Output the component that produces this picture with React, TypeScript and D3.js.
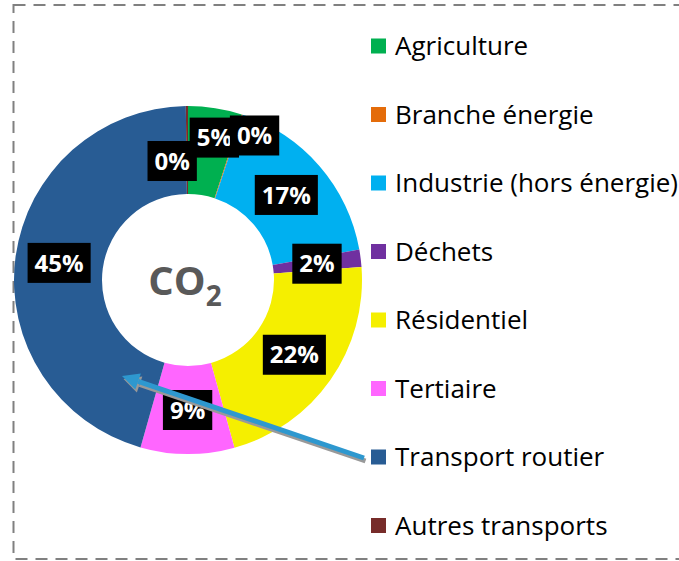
import React, { useEffect, useRef } from "react";
import * as d3 from "d3";

const categories = [
  "Agriculture",
  "Branche énergie",
  "Industrie (hors énergie)",
  "Déchets",
  "Résidentiel",
  "Tertiaire",
  "Transport routier",
  "Autres transports",
];
const shares = [5.0, 0.1, 17.1, 1.6, 21.9, 8.7, 45.4, 0.2];
const colors = [
  "#00B050",
  "#E46C0A",
  "#00B0F0",
  "#7030A0",
  "#F5EF00",
  "#FF66FF",
  "#285C94",
  "#772C2A",
];

// label nudges for the thin slices (layout only)
const labelNudge: Record<string, [number, number]> = {
  Agriculture: [6, -14],
  "Branche énergie": [26, -21],
  "Autres transports": [-15, 11],
};

const W = 679;
const H = 561;
const FONT = "'Open Sans', 'Noto Sans', sans-serif";

export default function App() {
  const svgRef = useRef<SVGSVGElement>(null);

  useEffect(() => {
    document.body.style.margin = "0";
    if (!svgRef.current) return;
    const svg = d3.select(svgRef.current);
    svg.selectAll("*").remove();

    // dashed frame
    svg.append("rect")
      .attr("x", 13.5)
      .attr("y", 5)
      .attr("width", 700)
      .attr("height", 554)
      .attr("fill", "none")
      .attr("stroke", "#808080")
      .attr("stroke-width", 2)
      .attr("stroke-dasharray", "12 8");

    const cx = 188;
    const cy = 280;
    const outerR = 174;
    const innerR = 86;

    const data = categories.map((c, i) => ({ name: c, value: shares[i], color: colors[i] }));

    const pie = d3.pie<any>().sort(null).value(d => d.value);
    const arcs = pie(data);
    const arc = d3.arc<any>().innerRadius(innerR).outerRadius(outerR);

    const g = svg.append("g").attr("transform", `translate(${cx},${cy})`);

    g.selectAll("path.slice")
      .data(arcs)
      .enter()
      .append("path")
      .attr("class", "slice")
      .attr("d", arc as any)
      .attr("fill", d => d.data.color);

    // centre title
    const title = g.append("text")
      .attr("text-anchor", "middle")
      .attr("font-family", FONT)
      .attr("font-weight", "bold")
      .attr("fill", "#595959")
      .attr("x", -3)
      .attr("y", 15);
    title.append("tspan").attr("font-size", 40).text("CO");
    title.append("tspan").attr("font-size", 28).attr("dy", 11).text("2");

    // arrow annotation (shadow + line + head)
    const start: [number, number] = [364, 458];
    const end: [number, number] = [122, 376];
    const ang = Math.atan2(end[1] - start[1], end[0] - start[0]);
    const headLen = 17;
    const headW = 8.5;
    const drawArrow = (dx: number, dy: number, col: string) => {
      const bx = end[0] - headLen * Math.cos(ang) + dx;
      const by = end[1] - headLen * Math.sin(ang) + dy;
      svg.append("line")
        .attr("x1", start[0] + dx)
        .attr("y1", start[1] + dy)
        .attr("x2", bx)
        .attr("y2", by)
        .attr("stroke", col)
        .attr("stroke-width", 5);
      const px = -Math.sin(ang) * headW;
      const py = Math.cos(ang) * headW;
      svg.append("path")
        .attr("d", `M${end[0] + dx},${end[1] + dy}L${bx + px},${by + py}L${bx - px},${by - py}Z`)
        .attr("fill", col);
    };
    drawArrow(1.5, 3, "#999999");
    drawArrow(0, 0, "#2E98CF");

    // slice labels
    arcs.forEach(d => {
      const [x0, y0] = arc.centroid(d);
      const nudge = labelNudge[d.data.name] || [0, 0];
      const x = x0 + nudge[0];
      const y = y0 + nudge[1];
      const lg = g.append("g").attr("transform", `translate(${x},${y})`);
      const rect = lg.append("rect").attr("fill", "#000");
      const t = lg.append("text")
        .attr("text-anchor", "middle")
        .attr("dy", "0.36em")
        .attr("font-family", FONT)
        .attr("font-weight", "bold")
        .attr("font-size", 24)
        .attr("fill", "#fff")
        .text(`${Math.round(d.data.value)}%`);
      const tw = (t.node() as SVGTextElement).getComputedTextLength();
      const bw = tw + 14;
      const bh = 40;
      rect.attr("x", -bw / 2).attr("y", -bh / 2).attr("width", bw).attr("height", bh);
    });

    // legend
    const rowY = d3.scaleLinear().domain([0, categories.length - 1]).range([46, 525.5]);
    const legend = svg.append("g");
    data.forEach((d, i) => {
      const y = rowY(i);
      legend.append("rect")
        .attr("x", 371)
        .attr("y", y - 7.5)
        .attr("width", 15)
        .attr("height", 15)
        .attr("fill", d.color);
      legend.append("text")
        .attr("x", 395)
        .attr("y", y)
        .attr("dy", "0.36em")
        .attr("font-family", FONT)
        .attr("font-size", 26)
        .attr("fill", "#000")
        .text(d.name);
    });
  }, []);

  return <svg ref={svgRef} width={W} height={H} style={{ display: "block" }} />;
}
